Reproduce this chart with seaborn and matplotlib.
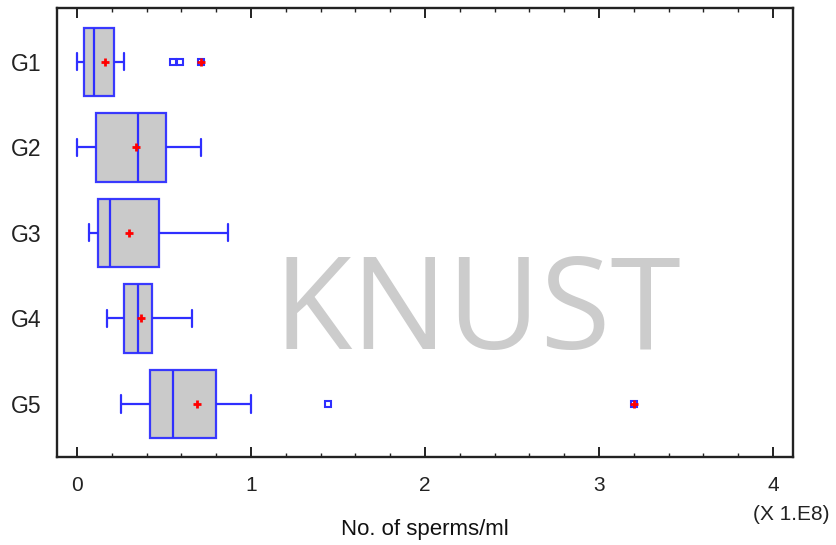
import matplotlib
matplotlib.use("Agg")
import matplotlib.pyplot as plt
import seaborn as sns
import pandas as pd
from matplotlib.ticker import MultipleLocator

# ---- data (x 1e8 sperms/ml) ----
groups = ["G1", "G2", "G3", "G4", "G5"]
g1 = [0.00, 0.01, 0.02, 0.03, 0.04, 0.05, 0.07, 0.09, 0.10, 0.12, 0.15, 0.18, 0.21, 0.27, 0.55, 0.59, 0.71]
g2 = [0.00, 0.05, 0.11, 0.22, 0.35, 0.45, 0.51, 0.66, 0.71]
g3 = [0.07, 0.10, 0.12, 0.15, 0.19, 0.23, 0.47, 0.50, 0.87]
g4 = [0.17, 0.25, 0.27, 0.33, 0.35, 0.40, 0.43, 0.47, 0.66]
g5 = [0.25, 0.30, 0.38, 0.42, 0.46, 0.50, 0.55, 0.62, 0.70, 0.80, 1.00, 1.44, 3.20]
means = [0.16, 0.34, 0.30, 0.37, 0.69]
far_groups = ["G1", "G5"]
far_values = [0.71, 3.20]
xticks = [0, 1, 2, 3, 4]

df = pd.DataFrame({
    "group": sum([[g] * len(v) for g, v in zip(groups, [g1, g2, g3, g4, g5])], []),
    "value": g1 + g2 + g3 + g4 + g5,
})

sns.set_theme(style="white")
plt.rcParams["font.family"] = ["Liberation Sans", "DejaVu Sans"]

BLUE = "#2f2fff"
fig = plt.figure(figsize=(8.37, 5.45), dpi=100)
ax = fig.add_axes([57 / 837, 1 - 457 / 545, (793 - 57) / 837, (457 - 8) / 545])

# watermark
ax.text(0.571, 0.315, "KNUST", transform=ax.transAxes, fontsize=92,
        family="Open Sans", color="#cccccc", ha="center", va="center", zorder=0)

sns.boxplot(data=df, x="value", y="group", order=groups, orient="h", ax=ax,
            width=0.8, color="#c8c8c8", saturation=1, linecolor=BLUE, linewidth=1.6,
            whis=1.5, capwidths=0.2,
            flierprops=dict(marker="s", markersize=4.5, markerfacecolor="white",
                            markeredgecolor=BLUE, markeredgewidth=1.5))
for p in ax.patches:
    p.set_alpha(0.95)

sns.scatterplot(x=means, y=groups, marker="+", color="red", s=30, linewidth=2.0,
                ax=ax, zorder=6, legend=False)
sns.scatterplot(x=far_values, y=far_groups, marker="+", color="red", s=30, linewidth=2.0,
                ax=ax, zorder=6, legend=False)

ax.set_xlim(-0.115, 4.115)
ax.set_ylim(4.62, -0.63)
ax.set_xticks(xticks)
ax.set_xticklabels([str(t) for t in xticks])
ax.xaxis.set_minor_locator(MultipleLocator(0.2))
ax.tick_params(axis="x", which="major", direction="in", top=True, bottom=True,
               length=7, width=1.4, color="#222222", labelsize=15, pad=14,
               labelcolor="#222222")
ax.tick_params(axis="x", which="minor", direction="in", top=True, bottom=True,
               length=3, width=1.0, color="#222222")
ax.tick_params(axis="y", length=0, labelsize=16.5, pad=11, labelcolor="#222222")
ax.set_ylabel("")
ax.set_xlabel("No. of sperms/ml", fontsize=16, color="#111111", labelpad=17)
for s in ax.spines.values():
    s.set_visible(True)
    s.set_color("#222222")
    s.set_linewidth(1.7)

fig.text(791 / 837, 1 - 515 / 545, "(X 1.E8)", fontsize=15, color="#222222",
         ha="center", va="center")

fig.savefig("out.png", dpi=100)
